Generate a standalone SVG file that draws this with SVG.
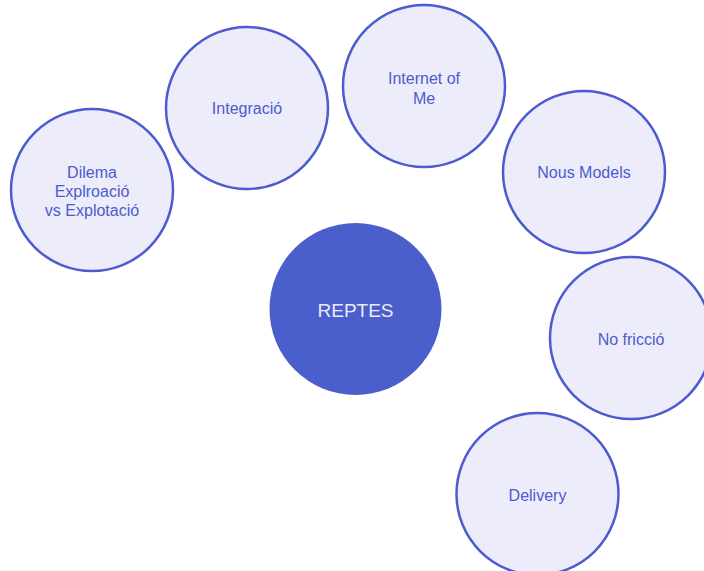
<svg xmlns="http://www.w3.org/2000/svg" width="704" height="571" viewBox="0 0 704 571">
<style>
.n{fill:#ececfa;stroke:#4c5bcf;stroke-width:2.5}
.t{font-family:"Liberation Sans",Arial,sans-serif;font-size:16px;fill:#4c5bcf;text-anchor:middle}
.c{fill:#4a5ecc}
.ct{font-family:"Liberation Sans",Arial,sans-serif;font-size:19px;fill:#eaeaf8;text-anchor:middle}
</style>
<rect width="704" height="571" fill="#ffffff"/>
<g id="connectors"></g>
<g id="dilema"><circle class="n" cx="92" cy="190" r="81"/><text class="t" x="92" y="178">Dilema</text><text class="t" x="92" y="197">Explroació</text><text class="t" x="92" y="216">vs Explotació</text></g>
<g id="integracio"><circle class="n" cx="247" cy="108" r="81"/><text class="t" x="247" y="114">Integració</text></g>
<g id="internet"><circle class="n" cx="424" cy="86" r="81"/><text class="t" x="424" y="84">Internet of</text><text class="t" x="424" y="104">Me</text></g>
<g id="nous"><circle class="n" cx="584" cy="172" r="81"/><text class="t" x="584" y="178">Nous Models</text></g>
<g id="nofriccio"><circle class="n" cx="631" cy="338" r="81"/><text class="t" x="631" y="345">No fricció</text></g>
<g id="delivery"><circle class="n" cx="537.5" cy="494" r="81"/><text class="t" x="537.5" y="501">Delivery</text></g>
<g id="reptes"><circle class="c" cx="355.5" cy="309" r="86"/><text class="ct" x="355.5" y="317">REPTES</text></g>
</svg>
